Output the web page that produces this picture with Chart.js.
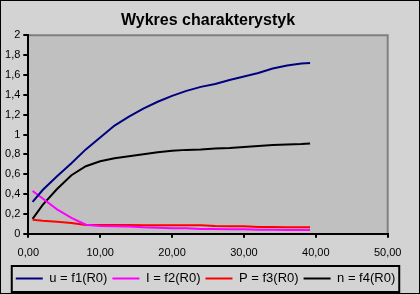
<!DOCTYPE html>
<html>
<head>
<meta charset="utf-8">
<script src="https://cdn.jsdelivr.net/npm/chart.js@4"></script>
<style>
  body { margin: 0; background: #d3d3d3; }
  .frame {
    width: 420px;
    height: 294px;
    box-sizing: border-box;
    border: 1px solid #000;
    background: #d3d3d3;
    overflow: hidden;
  }
  canvas { display: block; }
</style>
</head>
<body>
<div class="frame">
  <canvas id="chart" width="418" height="294"></canvas>
</div>
<script>
// R0 values (x axis) and the four curves
const r0 = [0.6, 2, 4, 6, 8, 10, 12, 14, 16, 18, 20, 22, 24, 26, 28, 30, 32, 34, 36, 38, 39.2];
const uValues = [0.32, 0.44, 0.58, 0.71, 0.85, 0.97, 1.09, 1.18, 1.26, 1.33, 1.39, 1.44, 1.48, 1.51, 1.55, 1.585, 1.62, 1.665, 1.695, 1.715, 1.72];
const iValues = [0.43, 0.355, 0.245, 0.16, 0.09, 0.078, 0.076, 0.072, 0.064, 0.06, 0.056, 0.054, 0.048, 0.047, 0.046, 0.045, 0.04, 0.039, 0.038, 0.038, 0.038];
const pValues = [0.14, 0.13, 0.12, 0.107, 0.088, 0.087, 0.087, 0.087, 0.086, 0.086, 0.085, 0.085, 0.084, 0.077, 0.076, 0.075, 0.068, 0.067, 0.066, 0.066, 0.065];
const nValues = [0.15, 0.29, 0.45, 0.59, 0.68, 0.73, 0.76, 0.78, 0.8, 0.82, 0.835, 0.845, 0.85, 0.86, 0.865, 0.875, 0.885, 0.895, 0.9, 0.905, 0.91];

const seriesLabels = ["u = f1(R0)", "I = f2(R0)", "P = f3(R0)", "n = f4(R0)"];
const seriesColors = ["#000080", "#ff00ff", "#ff0000", "#000000"];
const title = "Wykres charakterystyk";

const FONT = "Arial, 'Liberation Sans', sans-serif";

function toPoints(ys) {
  return ys.map((y, i) => ({ x: r0[i], y }));
}

function makeDataset(idx, ys) {
  return {
    label: seriesLabels[idx],
    data: toPoints(ys),
    borderColor: seriesColors[idx],
    backgroundColor: seriesColors[idx],
    borderWidth: 2,
    pointRadius: 0,
    tension: 0,
    fill: false,
  };
}

// gray plot area with the darker top/right edge, plus the box round the legend
const frames = {
  id: "frames",
  beforeDraw(chart) {
    const { ctx, chartArea: a } = chart;
    ctx.save();
    ctx.fillStyle = "#c0c0c0";
    ctx.fillRect(a.left, a.top, a.right - a.left, a.bottom - a.top);
    ctx.strokeStyle = "#808080";
    ctx.lineWidth = 2;
    ctx.beginPath();
    ctx.moveTo(a.left, a.top);
    ctx.lineTo(a.right, a.top);
    ctx.lineTo(a.right, a.bottom);
    ctx.stroke();
    ctx.restore();
  },
  afterDraw(chart) {
    const boxes = chart.legend.legendHitBoxes;
    if (!boxes || !boxes.length) return;
    const left = Math.min(...boxes.map((b) => b.left)) - 4;
    const right = Math.max(...boxes.map((b) => b.left + b.width)) + 4;
    const top = boxes[0].top - 6;
    const bottom = boxes[0].top + boxes[0].height + 7;
    const { ctx } = chart;
    ctx.save();
    ctx.strokeStyle = "#000";
    ctx.lineWidth = 2;
    ctx.strokeRect(left, top, right - left, bottom - top);
    ctx.restore();
  },
};

const ctx = document.querySelector("#chart");
const chart = new Chart(ctx, {
  type: "line",
  data: {
    datasets: [
      makeDataset(0, uValues),
      makeDataset(1, iValues),
      makeDataset(2, pValues),
      makeDataset(3, nValues),
    ],
  },
  options: {
    responsive: false,
    animation: false,
    layout: { padding: { left: 0, right: 9, top: 0, bottom: 0 } },
    scales: {
      x: {
        type: "linear",
        min: 0,
        max: 50,
        ticks: {
          stepSize: 10,
          color: "#000",
          font: { family: FONT, size: 11 },
          padding: 9,
          maxRotation: 0,
          callback: (v) => v.toFixed(2).replace(".", ","),
        },
        grid: {
          drawOnChartArea: false,
          drawTicks: true,
          tickLength: 4,
          color: "#000",
          lineWidth: 2,
        },
        border: { display: true, color: "#000", width: 2 },
        afterFit(scale) {
          scale.height = 33.3;
        },
      },
      y: {
        min: 0,
        max: 2,
        ticks: {
          stepSize: 0.2,
          color: "#000",
          font: { family: FONT, size: 11 },
          padding: 3,
          callback: (v) => String(Number(v.toFixed(1))).replace(".", ","),
        },
        grid: {
          drawOnChartArea: false,
          drawTicks: true,
          tickLength: 5,
          color: "#000",
          lineWidth: 2,
        },
        border: { display: true, color: "#000", width: 2 },
        afterFit(scale) {
          scale.width = 27.3;
        },
      },
      // empty axis on the right, only keeps the space Excel leaves there
      spacer: {
        type: "linear",
        position: "right",
        ticks: { display: false },
        grid: { display: false },
        border: { display: false },
        afterFit(scale) {
          scale.width = 22.3;
        },
      },
    },
    plugins: {
      title: {
        display: true,
        text: title,
        color: "#000",
        fullSize: false,
        font: { family: FONT, size: 16, weight: "bold" },
        padding: { top: 10, bottom: 5.1 },
      },
      legend: {
        display: true,
        position: "bottom",
        labels: {
          color: "#000",
          font: { family: FONT, size: 13 },
          usePointStyle: true,
          pointStyle: "line",
          pointStyleWidth: 27,
          padding: 5,
        },
      },
      tooltip: { enabled: false },
    },
  },
  plugins: [frames],
});
</script>
</body>
</html>
